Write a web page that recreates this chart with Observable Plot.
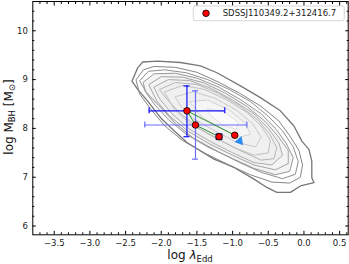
<!DOCTYPE html>
<html><head><meta charset="utf-8">
<script src="https://cdn.jsdelivr.net/npm/d3@7"></script>
<script src="https://cdn.jsdelivr.net/npm/@observablehq/plot@0.6"></script>
<style>body{margin:0;background:#fff}</style>
</head><body><div id="chart"></div>
<script>
// Tick labels
const xTicks = [-3.5, -3, -2.5, -2, -1.5, -1, -0.5, 0, 0.5];
const yTicks = [6, 7, 8, 9, 10];
const xMinor = d3.range(-37, 7, 1).map(v => v / 10).filter(v => Math.abs(v * 2 - Math.round(v * 2)) > 1e-6);
const yMinor = d3.range(30, 53, 1).map(v => v / 5).filter(v => Math.abs(v - Math.round(v)) > 1e-6);

// Source epochs
const logL = [-1.64, -1.52, -1.19, -0.97];
const logM = [8.36, 8.07, 7.83, 7.86];
const pathOrder = [3, 0, 1, 2];
const errIdx = [0, 1];
const xErrLo = [-2.17, -2.23];
const xErrHi = [-1.11, -0.80];
const yErrLo = [7.83, 7.37];
const yErrHi = [8.87, 8.77];
const triX = [-0.9];
const triY = [7.74];
const legendLabel = "SDSSJ110349.2+312416.7";

// Density contours of the parent sample (outer -> inner), [logL, logM]
const C1 = [[-2.41,8.97],[-2.33,9.24],[-2.26,9.36],[-2.05,9.38],[-1.73,9.35],[-1.45,9.28],[-1.22,9.14],[-0.89,8.87],[-0.61,8.63],[-0.33,8.36],[-0.14,8.05],[-0.03,7.74],[0.07,7.57],[0.11,7.33],[0.11,6.99],[0.14,6.89],[-0.05,6.82],[-0.19,6.69],[-0.38,6.69],[-0.52,6.79],[-0.70,6.96],[-0.98,7.20],[-1.26,7.37],[-1.45,7.54],[-1.64,7.71],[-1.82,7.95],[-2.01,8.22],[-2.19,8.56],[-2.33,8.80]];
const C2 = [[-2.35,9.0],[-2.25,9.2],[-2.1,9.27],[-1.8,9.25],[-1.5,9.15],[-1.2,8.95],[-0.9,8.72],[-0.6,8.45],[-0.35,8.15],[-0.2,7.85],[-0.07,7.55],[-0.02,7.25],[-0.05,7.0],[-0.2,6.88],[-0.45,6.9],[-0.75,7.05],[-1.05,7.25],[-1.4,7.5],[-1.7,7.75],[-1.95,8.05],[-2.15,8.4],[-2.3,8.7]];
const C2b = [[-2.3,8.98],[-2.18,9.17],[-1.95,9.2],[-1.65,9.14],[-1.35,9.0],[-1.05,8.8],[-0.75,8.55],[-0.5,8.25],[-0.3,7.95],[-0.15,7.62],[-0.08,7.32],[-0.12,7.06],[-0.3,6.97],[-0.6,7.1],[-0.9,7.3],[-1.2,7.52],[-1.55,7.8],[-1.8,8.1],[-2.0,8.42],[-2.2,8.72]];
const C3 = [[-2.25,8.95],[-2.1,9.12],[-1.8,9.13],[-1.5,9.03],[-1.2,8.85],[-0.9,8.6],[-0.6,8.3],[-0.4,8.0],[-0.25,7.7],[-0.15,7.4],[-0.2,7.12],[-0.4,7.05],[-0.7,7.18],[-1.0,7.38],[-1.35,7.62],[-1.65,7.88],[-1.9,8.18],[-2.1,8.5],[-2.22,8.75]];
const C3b = [[-2.17,8.9],[-2.0,9.06],[-1.7,9.05],[-1.4,8.93],[-1.1,8.72],[-0.8,8.45],[-0.55,8.15],[-0.37,7.85],[-0.22,7.55],[-0.22,7.28],[-0.4,7.15],[-0.7,7.25],[-1.0,7.45],[-1.32,7.68],[-1.62,7.94],[-1.88,8.25],[-2.06,8.56]];
const C4 = [[-2.1,8.85],[-1.9,9.0],[-1.6,8.98],[-1.3,8.82],[-1.0,8.58],[-0.7,8.3],[-0.5,8.0],[-0.35,7.7],[-0.3,7.45],[-0.45,7.25],[-0.7,7.3],[-1.0,7.5],[-1.3,7.72],[-1.6,7.98],[-1.85,8.3],[-2.02,8.6]];
const C4b = [[-2.02,8.8],[-1.8,8.94],[-1.5,8.9],[-1.2,8.72],[-0.9,8.46],[-0.65,8.18],[-0.48,7.88],[-0.38,7.6],[-0.42,7.38],[-0.6,7.35],[-0.9,7.55],[-1.2,7.78],[-1.5,8.03],[-1.75,8.33],[-1.92,8.6]];
const C5 = [[-1.95,8.75],[-1.7,8.88],[-1.4,8.8],[-1.1,8.6],[-0.8,8.33],[-0.6,8.05],[-0.47,7.75],[-0.5,7.5],[-0.7,7.45],[-1.0,7.62],[-1.3,7.85],[-1.6,8.1],[-1.82,8.4]];
const C6 = [[-1.8,8.65],[-1.55,8.75],[-1.25,8.62],[-0.95,8.38],[-0.72,8.1],[-0.6,7.82],[-0.68,7.62],[-0.95,7.72],[-1.25,7.95],[-1.55,8.2],[-1.72,8.45]];
const C7 = [[-1.6,8.55],[-1.35,8.58],[-1.05,8.38],[-0.82,8.1],[-0.75,7.88],[-0.9,7.82],[-1.15,8.0],[-1.42,8.22]];
const C8 = [[-1.35,8.4],[-1.1,8.33],[-0.92,8.12],[-0.95,7.98],[-1.15,8.08],[-1.3,8.25]];
const contours = [C1, C2, C2b, C3, C3b, C4, C4b, C5, C6, C7, C8];
const contourStroke = ["#777","#868686","#8f8f8f","#989898","#a2a2a2","#acacac","#b6b6b6","#c0c0c0","#cacaca","#d4d4d4","#dedede"];
const contourFill = [null, null, null, "#f4f4f4", null, "#efefef", null, "#f0f0f0", null, "#f5f5f5", "#fbfbfb"];

const cx = d => d[0], cy = d => d[1];
const contourMarks = [];
contours.forEach((c, i) => {
  if (contourFill[i]) contourMarks.push(Plot.line(c, {x: cx, y: cy, curve: "linear-closed", fill: contourFill[i], stroke: "none"}));
});
contours.forEach((c, i) => {
  contourMarks.push(Plot.line(c, {x: cx, y: cy, curve: "linear-closed", stroke: contourStroke[i], strokeWidth: i === 0 ? 1.3 : 1}));
});

const errColor = ["#1010ff", "#6a6aff"];
const noText = {text: null, tickFormat: null, label: null, stroke: "#000"};
const plot = Plot.plot({
  width: 349, height: 264,
  marginLeft: 32.3, marginRight: 1.3, marginTop: 1, marginBottom: 29.7,
  x: {domain: [-3.8, 0.62]},
  y: {domain: [5.82, 10.6]},
  style: {fontFamily: "DejaVu Sans", fontSize: "8.5px", color: "#222", background: "white"},
  marks: [
    ...contourMarks,
    // error bars
    Plot.ruleY(errIdx, {y: i => logM[i], x1: i => xErrLo[i], x2: i => xErrHi[i], stroke: i => errColor[i], strokeWidth: 1.2}),
    Plot.ruleX(errIdx, {x: i => logL[i], y1: i => yErrLo[i], y2: i => yErrHi[i], stroke: i => errColor[i], strokeWidth: 1.2}),
    Plot.ruleX(errIdx, {x: i => xErrLo[i], y1: i => logM[i], y2: i => logM[i], insetTop: -3, insetBottom: -3, stroke: i => errColor[i], strokeWidth: 1.2}),
    Plot.ruleX(errIdx, {x: i => xErrHi[i], y1: i => logM[i], y2: i => logM[i], insetTop: -3, insetBottom: -3, stroke: i => errColor[i], strokeWidth: 1.2}),
    Plot.ruleY(errIdx, {y: i => yErrLo[i], x1: i => logL[i], x2: i => logL[i], insetLeft: -3, insetRight: -3, stroke: i => errColor[i], strokeWidth: 1.2}),
    Plot.ruleY(errIdx, {y: i => yErrHi[i], x1: i => logL[i], x2: i => logL[i], insetLeft: -3, insetRight: -3, stroke: i => errColor[i], strokeWidth: 1.2}),
    // connecting path
    Plot.line(pathOrder, {x: i => logL[i], y: i => logM[i], stroke: "#1a8a1a", strokeWidth: 0.9}),
    // triangle marker
    Plot.dot(triX, {x: d => d, y: (d, i) => triY[i], symbol: "triangle", r: 3.4, fill: "#2c8cf0", stroke: "none", rotate: 140}),
    // square behind point 3
    Plot.dot([2], {x: i => logL[i], y: i => logM[i], symbol: "square", r: 3.8, fill: "#1a1a9a", stroke: "none"}),
    // epochs
    Plot.dot(logL, {x: d => d, y: (d, i) => logM[i], r: 3.3, fill: "#f00", stroke: "#000", strokeWidth: 0.8}),
    // axes: ticks inward on all sides
    Plot.axisX(xTicks, {anchor: "bottom", tickSize: -3.5, ...noText}),
    Plot.axisX(xTicks, {anchor: "top", tickSize: -3.5, ...noText}),
    Plot.axisX(xMinor, {anchor: "bottom", tickSize: -2, ...noText}),
    Plot.axisX(xMinor, {anchor: "top", tickSize: -2, ...noText}),
    Plot.axisY(yTicks, {anchor: "left", tickSize: -3.5, ...noText}),
    Plot.axisY(yTicks, {anchor: "right", tickSize: -3.5, ...noText}),
    Plot.axisY(yMinor, {anchor: "left", tickSize: -2, ...noText}),
    Plot.axisY(yMinor, {anchor: "right", tickSize: -2, ...noText}),
    Plot.axisX(xTicks, {anchor: "bottom", tickSize: 0, tickPadding: 5, tickFormat: d3.format(".1f"), label: null}),
    Plot.axisY(yTicks, {anchor: "left", tickSize: 0, tickPadding: 5, tickFormat: d3.format("d"), label: null}),
    Plot.frame({stroke: "#000", strokeWidth: 1})
  ]
});

const svg = d3.select(plot);
// x label
const xl = svg.append("text").attr("x", 190).attr("y", 259).attr("text-anchor", "middle")
  .attr("font-family", "DejaVu Sans").attr("font-size", 12).attr("fill", "#111");
xl.append("tspan").text("log ");
xl.append("tspan").attr("font-style", "italic").text("λ");
xl.append("tspan").attr("font-size", 8.5).attr("dy", 2.5).text("Edd");
// y label
const yl = svg.append("text").attr("transform", "translate(12.5,117) rotate(-90)").attr("text-anchor", "middle")
  .attr("font-family", "DejaVu Sans").attr("font-size", 12).attr("fill", "#111");
yl.append("tspan").text("log M");
yl.append("tspan").attr("font-size", 8.5).attr("dy", 2.5).text("BH");
yl.append("tspan").attr("dy", -2.5).text(" [M");
yl.append("tspan").attr("font-size", 8.5).attr("dy", 2.5).text("⊙");
yl.append("tspan").attr("dy", -2.5).text("]");
// legend
const lg = svg.append("g");
lg.append("rect").attr("x", 193.3).attr("y", 6).attr("width", 151).attr("height", 14.7).attr("rx", 2)
  .attr("fill", "white").attr("fill-opacity", 0.85).attr("stroke", "#cccccc").attr("stroke-width", 0.8);
lg.append("circle").attr("cx", 206).attr("cy", 13.3).attr("r", 3.3).attr("fill", "#f00").attr("stroke", "#000").attr("stroke-width", 0.8);
lg.append("text").attr("x", 222.7).attr("y", 16.4).attr("text-anchor", "start").attr("font-family", "DejaVu Sans").attr("font-size", 8.5).attr("fill", "#222").text(legendLabel);

document.getElementById("chart").appendChild(plot);
</script>
</body></html>
